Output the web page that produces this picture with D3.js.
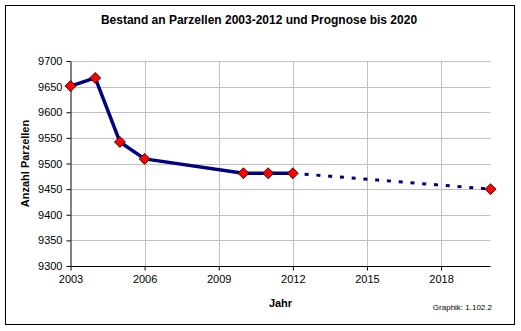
<!DOCTYPE html>
<html><head><meta charset="utf-8">
<script src="https://cdn.jsdelivr.net/npm/d3@7"></script>
<style>
html,body{margin:0;padding:0;background:#fff;}
svg{display:block;font-family:"Liberation Sans",Arial,sans-serif;}
</style></head><body>
<svg id="chart" width="521" height="331"></svg>
<script>
const years = [2003, 2004, 2005, 2006, 2010, 2011, 2012];
const bestand = [9651, 9667, 9542, 9509, 9481, 9481, 9481];
const prognoseYears = [2012, 2020];
const prognose = [9481, 9450];
const xTicks = [2003, 2006, 2009, 2012, 2015, 2018];
const yTicks = [9300, 9350, 9400, 9450, 9500, 9550, 9600, 9650, 9700];

const svg = d3.select("#chart");
const m = {left: 70.5, right: 490.5, top: 61, bottom: 266};

svg.append("rect").attr("x", 5.5).attr("y", 5.5).attr("width", 509).attr("height", 319)
  .attr("fill", "#fff").attr("stroke", "#000").attr("stroke-width", 1);

const x = d3.scaleLinear().domain([2003, 2020]).range([m.left, m.right]);
const y = d3.scaleLinear().domain([9300, 9700]).range([m.bottom, m.top]);

// grid
const g = svg.append("g");
g.selectAll(".hg").data(yTicks.filter(v => v > 9300)).enter().append("line")
  .attr("x1", m.left).attr("x2", m.right)
  .attr("y1", d => Math.round(y(d)) + 0.5).attr("y2", d => Math.round(y(d)) + 0.5)
  .attr("stroke", "#c0c0c0").attr("stroke-width", 1);
g.selectAll(".vg").data(xTicks.filter(v => v > 2003)).enter().append("line")
  .attr("y1", m.top).attr("y2", m.bottom)
  .attr("x1", d => Math.round(x(d)) + 0.5).attr("x2", d => Math.round(x(d)) + 0.5)
  .attr("stroke", "#c0c0c0").attr("stroke-width", 1);

// axes
const yAxis = svg.append("g").attr("transform", `translate(${m.left},0)`)
  .call(d3.axisLeft(y).tickValues(yTicks).tickFormat(d3.format("d")).tickSize(4).tickSizeOuter(0).tickPadding(4));
const xAxis = svg.append("g").attr("transform", `translate(0,${Math.round(m.bottom)+0.5})`)
  .call(d3.axisBottom(x).tickValues(xTicks).tickFormat(d3.format("d")).tickSize(4).tickSizeOuter(0).tickPadding(5));
[yAxis, xAxis].forEach(a => {
  a.selectAll("path,line").attr("stroke", "#000").attr("stroke-width", 1);
  a.selectAll("text").attr("font-size", "11px").attr("fill", "#000")
    .attr("font-family", "'Liberation Sans', Arial, sans-serif");
});
xAxis.select("path.domain").attr("d", `M${m.left},0H${m.right}`);

// lines
const line = d3.line().x(d => x(d[0])).y(d => y(d[1]));
svg.append("path").datum(years.map((v, i) => [v, bestand[i]]))
  .attr("d", line).attr("fill", "none").attr("stroke", "#000080")
  .attr("stroke-width", 3.5).attr("stroke-linejoin", "round");
svg.append("path").datum(prognoseYears.map((v, i) => [v, prognose[i]]))
  .attr("d", line).attr("fill", "none").attr("stroke", "#000080")
  .attr("stroke-width", 3).attr("stroke-dasharray", "4,7.8");

// markers
const pts = years.map((v, i) => [v, bestand[i]]).concat([[prognoseYears[1], prognose[1]]]);
const s = 5.5;
svg.selectAll(".mk").data(pts).enter().append("path")
  .attr("d", d => `M${x(d[0])},${y(d[1]) - s}L${x(d[0]) + s},${y(d[1])}L${x(d[0])},${y(d[1]) + s}L${x(d[0]) - s},${y(d[1])}Z`)
  .attr("fill", "#ff0000").attr("stroke", "#000").attr("stroke-width", 0.8);

// texts
svg.append("text").attr("x", 259).attr("y", 24).attr("text-anchor", "middle")
  .attr("font-size", "12px").attr("font-weight", "bold")
  .text("Bestand an Parzellen 2003-2012 und Prognose bis 2020");
svg.append("text").attr("transform", `translate(29,${(m.top + m.bottom) / 2}) rotate(-90)`)
  .attr("text-anchor", "middle").attr("font-size", "11px").attr("font-weight", "bold")
  .text("Anzahl Parzellen");
svg.append("text").attr("x", (m.left + m.right) / 2).attr("y", 307).attr("text-anchor", "middle")
  .attr("font-size", "11px").attr("font-weight", "bold").text("Jahr");
svg.append("text").attr("x", 492).attr("y", 310).attr("text-anchor", "end")
  .attr("font-size", "8px").text("Graphik: 1.102.2");
</script>
</body></html>
